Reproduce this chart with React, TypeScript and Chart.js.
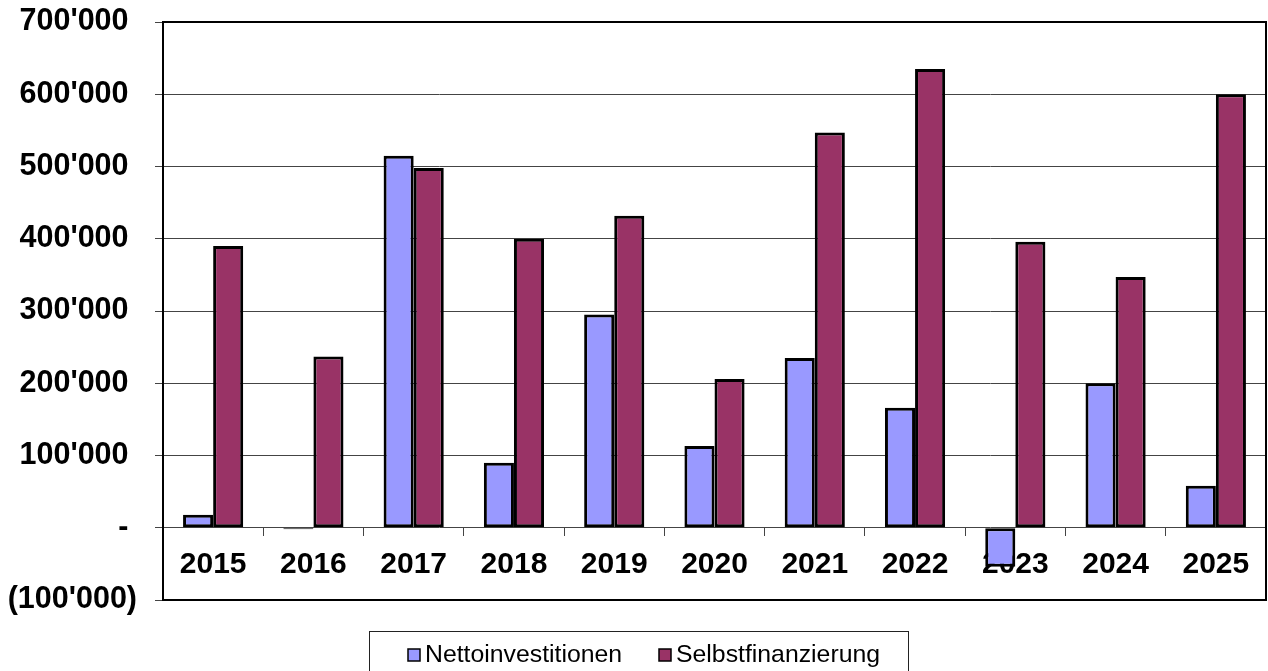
import React, { useEffect, useRef } from "react";
import { Chart, registerables } from "chart.js";

Chart.register(...registerables);

const categories = ["2015", "2016", "2017", "2018", "2019", "2020", "2021", "2022", "2023", "2024", "2025"];
const nettoinvestitionen = [18000, -2000, 515000, 90000, 295000, 113000, 235000, 166000, -54000, 200000, 58000];
const selbstfinanzierung = [390000, 237000, 498000, 400000, 432000, 206000, 547000, 635000, 396000, 347000, 600000];
const seriesLabels = ["Nettoinvestitionen", "Selbstfinanzierung"];
const yMin = -100000;
const yMax = 700000;
const yStep = 100000;

const FONT = '"Liberation Sans", Arial, sans-serif';

function fmt(n: number): string {
  return String(Math.round(n)).replace(/\B(?=(\d{3})+(?!\d))/g, "'");
}

const frameAndLegend = {
  id: "frameAndLegend",
  afterDatasetsDraw(chart: any) {
    const { ctx, chartArea } = chart;
    ctx.save();
    ctx.strokeStyle = "#000";
    ctx.lineWidth = 2;
    ctx.strokeRect(chartArea.left, chartArea.top, chartArea.right - chartArea.left, chartArea.bottom - chartArea.top);
    ctx.restore();
  },
  afterDraw(chart: any) {
    const { ctx } = chart;
    ctx.save();
    ctx.strokeStyle = "#222";
    ctx.lineWidth = 1;
    ctx.strokeRect(369.5, 631.5, 539, 60);
    ctx.font = `24.8px ${FONT}`;
    ctx.textBaseline = "middle";
    ctx.textAlign = "left";
    const starts = [408, 659];
    chart.data.datasets.forEach((ds: any, i: number) => {
      const x = starts[i];
      ctx.fillStyle = ds.backgroundColor;
      ctx.fillRect(x, 649, 12, 12);
      ctx.strokeStyle = "#000";
      ctx.lineWidth = 1.5;
      ctx.strokeRect(x, 649, 12, 12);
      ctx.fillStyle = "#000";
      ctx.fillText(ds.label, x + 17, 655);
    });
    ctx.restore();
  },
};

export default function App() {
  const ref = useRef<HTMLCanvasElement | null>(null);
  useEffect(() => {
    if (!ref.current) return;
    const chart = new Chart(ref.current, {
      type: "bar",
      data: {
        labels: categories,
        datasets: [
          {
            label: seriesLabels[0],
            data: nettoinvestitionen,
            backgroundColor: "#9999FF",
            borderColor: "#000",
            borderWidth: 3,
            borderSkipped: false,
            categoryPercentage: 0.6,
            barPercentage: 1.0,
          },
          {
            label: seriesLabels[1],
            data: selbstfinanzierung,
            backgroundColor: "#993366",
            borderColor: "#000",
            borderWidth: 3,
            borderSkipped: false,
            categoryPercentage: 0.6,
            barPercentage: 1.0,
          },
        ],
      },
      options: {
        animation: false,
        responsive: false,
        layout: { padding: { top: 22, right: 2, bottom: 71, left: 0 } },
        plugins: {
          legend: { display: false },
          tooltip: { enabled: false },
        },
        scales: {
          x: {
            position: { y: 0 } as any,
            z: 1,
            offset: true,
            grid: {
              offset: true,
              drawOnChartArea: false,
              drawTicks: true,
              tickLength: 8,
              color: "#444",
            },
            border: { display: false },
            ticks: {
              color: "#000",
              padding: 11,
              font: { family: FONT, size: 30, weight: "bold" },
              maxRotation: 0,
              autoSkip: false,
            },
          },
          y: {
            min: yMin,
            max: yMax,
            afterFit(scale: any) {
              scale.width = 163;
              scale.paddingTop = 0;
              scale.paddingBottom = 0;
            },
            ticks: {
              stepSize: yStep,
              color: "#000",
              padding: 18,
              font: { family: FONT, size: 30.5, weight: "bold" },
              callback: (v: any) => {
                const n = Number(v);
                if (n === 0) return "- ";
                if (n < 0) return "(" + fmt(-n) + ")";
                return fmt(n) + " ";
              },
            },
            grid: {
              color: "#444",
              lineWidth: 1,
              tickLength: 8,
            },
            border: { display: true, color: "#000", width: 2 },
          },
        },
      },
      plugins: [frameAndLegend],
    });
    return () => chart.destroy();
  }, []);
  return (
    <div style={{ position: "absolute", left: 0, top: 0, width: 1268, height: 671, background: "#fff" }}>
      <canvas ref={ref} width={1268} height={671} style={{ width: 1268, height: 671, display: "block" }} />
    </div>
  );
}
